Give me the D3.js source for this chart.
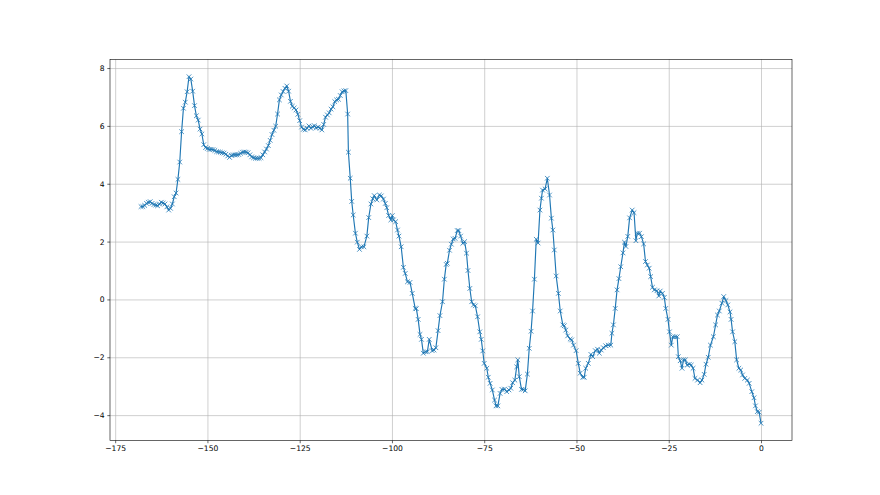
<!DOCTYPE html>
<html>
<head>
<meta charset="utf-8">
<script src="https://cdn.jsdelivr.net/npm/d3@7"></script>
<style>
  body { margin: 0; background: #fff; }
  text { font-family: "DejaVu Sans", sans-serif; }
</style>
</head>
<body>
<svg id="chart" width="880" height="495"></svg>
<script>
// sample positions
const xs = [
  -168,-167.5,-167,-166.5,-166,-165.5,-165,-164.5,-164,-163.5,
  -163,-162.5,-162,-161.5,-161,-160.5,-160,-159.5,-159,-158.5,
  -158,-157.5,-157,-156.5,-156,-155.5,-155,-154.5,-154,-153.5,
  -153,-152.5,-152,-151.5,-151,-150.5,-150,-149.5,-149,-148.5,
  -148,-147.5,-147,-146.5,-146,-145.5,-145,-144.5,-144,-143.5,
  -143,-142.5,-142,-141.5,-141,-140.5,-140,-139.5,-139,-138.5,
  -138,-137.5,-137,-136.5,-136,-135.5,-135,-134.5,-134,-133.5,
  -133,-132.5,-132,-131.5,-131,-130.5,-130,-129.5,-129,-128.5,
  -128,-127.5,-127,-126.5,-126,-125.5,-125,-124.5,-124,-123.5,
  -123,-122.5,-122,-121.5,-121,-120.5,-120,-119.5,-119,-118.5,
  -118,-117.5,-117,-116.5,-116,-115.5,-115,-114.5,-114,-113.5,
  -113,-112.5,-112,
  -111.8,-111.3,-110.9,-110.5,-109.9,-109.4,-108.8,-108.3,-107.6,-106.8,
  -106.3,-105.7,-105.2,-104.8,-104.1,-103.4,-102.9,-102.3,-101.8,-101.4,
  -100.9,-100.3,-99.9,-99.6,-99.0,-98.5,-98.1,-97.5,-96.9,-96.4,
  -95.8,-95.1,-94.5,-93.7,-93.4,-92.9,-92.4,-92.0,-91.5,-90.9,
  -90.4,-89.9,-89.1,-88.6,-88.1,-87.5,-87.0,-86.3,-85.8,-85.3,
  -85.0,-84.4,-83.9,-83.4,-82.9,-82.3,-81.9,-81.4,-80.8,-80.3,
  -79.8,-79.4,-78.9,-78.4,-77.9,-77.4,-76.8,-76.2,-75.8,-75.4,
  -75.0,-74.3,-73.9,-73.4,-72.8,-72.2,-71.8,-71.3,-70.7,-70.2,
  -69.5,-68.9,-68.3,-67.8,-67.3,-66.7,-66.2,-65.9,-65.5,-64.9,
  -64.4,-63.9,-63.3,-62.8,-62.3,-61.9,-61.4,-60.9,-60.4,-59.9,
  -59.5,-59.2,-58.5,-57.9,-57.3,-56.8,-56.4,-56.0,-55.5,-54.9,
  -54.4,-53.7,-53.3,-52.9,-52.4,-51.7,-51.3,-50.8,-50.1,-49.5,
  -49.0,-48.3,-47.9,-47.5,-46.8,-46.1,-45.6,-44.9,-44.3,-43.8,
  -43.3,-42.7,-42.1,-41.4,-40.7,-40.4,-40.0,-39.5,-39.0,-38.5,
  -38.0,-37.4,-37.0,-36.6,-36.1,-35.6,-34.9,-34.4,-33.9,-33.5,
  -32.9,-32.4,-31.8,-31.3,-30.8,-30.3,-29.9,-29.4,-28.9,-28.2,
  -27.7,-27.3,-26.7,-26.2,-25.8,-25.2,-24.8,-24.3,-23.9,-23.3,
  -22.7,-22.4,-21.9,-21.4,-21.0,-20.5,-20.0,-19.4,-18.9,-18.4,
  -17.9,-17.2,-16.5,-16.0,-15.4,-14.9,-14.3,-13.7,-12.9,-12.3,
  -11.8,-11.3,-10.6,-10.1,-9.5,-9.0,-8.4,-8.1,-7.7,-7.1,
  -6.6,-6.0,-5.5,-5.0,-4.4,-3.7,-3.2,-2.5,-1.9,-1.5,
  -1.0,-0.5,0.0
];

const ys = [
  3.21,3.21,3.25,3.32,3.36,3.38,3.32,3.28,3.26,3.24,
  3.30,3.36,3.33,3.30,3.20,3.09,3.15,3.30,3.55,3.68,
  4.15,4.75,5.80,6.61,6.82,7.18,7.70,7.62,7.20,6.70,
  6.35,6.20,5.89,5.72,5.35,5.25,5.22,5.19,5.19,5.18,
  5.15,5.11,5.10,5.09,5.07,5.06,5.02,4.96,4.91,4.98,
  5.00,5.00,5.00,5.01,5.05,5.09,5.10,5.09,5.07,5.00,
  4.93,4.90,4.88,4.88,4.88,4.90,5.00,5.10,5.20,5.32,
  5.50,5.70,5.85,5.99,6.41,6.90,7.07,7.19,7.30,7.38,
  7.20,6.85,6.68,6.62,6.55,6.40,6.18,5.96,5.88,5.86,
  5.92,6.00,5.92,5.97,6.00,5.93,5.96,5.92,5.86,6.05,
  6.30,6.38,6.45,6.58,6.66,6.84,6.90,6.92,7.05,7.18,
  7.21,7.22,6.41,
  5.09,4.19,3.39,2.92,2.29,1.98,1.73,1.82,1.82,2.19,
  2.83,3.30,3.48,3.59,3.44,3.61,3.58,3.47,3.32,3.17,
  2.90,2.75,2.90,2.75,2.69,2.40,2.19,1.82,1.11,0.90,
  0.61,0.59,0.21,-0.31,-0.32,-0.69,-1.21,-1.38,-1.86,-1.81,
  -1.81,-1.38,-1.77,-1.75,-1.67,-1.08,-0.56,-0.08,0.70,1.21,
  1.25,1.70,1.91,2.09,2.11,2.38,2.38,2.19,1.94,2.00,
  1.60,1.00,0.38,-0.08,-0.19,-0.22,-0.60,-1.12,-1.38,-1.78,
  -2.21,-2.38,-2.69,-2.90,-3.13,-3.48,-3.68,-3.68,-3.25,-3.11,
  -3.10,-3.19,-3.13,-3.07,-2.88,-2.79,-2.33,-2.09,-2.67,-3.11,
  -3.11,-3.16,-2.58,-1.69,-1.10,-0.40,0.70,2.08,1.95,3.09,
  3.50,3.78,3.82,4.19,3.61,2.81,2.40,1.71,0.81,0.21,
  -0.40,-0.88,-0.91,-1.06,-1.26,-1.37,-1.40,-1.58,-1.77,-2.21,
  -2.55,-2.69,-2.69,-2.38,-2.21,-1.90,-1.98,-1.77,-1.72,-1.86,
  -1.75,-1.67,-1.60,-1.58,-1.58,-1.17,-0.88,-0.31,0.33,0.72,
  1.13,1.61,1.98,1.83,2.18,2.82,3.09,3.00,2.03,2.29,
  2.29,2.17,1.92,1.31,1.19,1.08,0.79,0.42,0.33,0.30,
  0.12,0.29,0.21,0.07,-0.31,-0.69,-1.12,-1.58,-1.29,-1.29,
  -1.29,-1.98,-2.12,-2.38,-2.09,-2.09,-2.27,-2.24,-2.27,-2.38,
  -2.73,-2.79,-2.88,-2.79,-2.59,-2.24,-2.00,-1.58,-1.29,-0.88,
  -0.54,-0.40,-0.13,0.10,-0.04,-0.19,-0.43,-0.69,-1.12,-1.46,
  -2.09,-2.38,-2.44,-2.61,-2.73,-2.79,-2.90,-3.19,-3.40,-3.68,
  -3.88,-3.90,-4.28
];

const xTicks = [-175, -150, -125, -100, -75, -50, -25, 0];
const yTicks = [-4, -2, 0, 2, 4, 6, 8];

const data = xs.map((x, i) => ({ x: x, y: ys[i] }));

const width = 880, height = 495;
// matplotlib default subplot box
const margin = { left: 110, right: 88, top: 59.4, bottom: 54.45 };
const innerW = width - margin.left - margin.right;
const innerH = height - margin.top - margin.bottom;

const color = '#1f77b4';

// autoscale with 5% padding like matplotlib
const xExt = d3.extent(xs), yExt = d3.extent(ys);
const xPad = (xExt[1] - xExt[0]) * 0.05, yPad = (yExt[1] - yExt[0]) * 0.05;

const x = d3.scaleLinear().domain([xExt[0] - xPad, xExt[1] + xPad]).range([0, innerW]);
const y = d3.scaleLinear().domain([yExt[0] - yPad, yExt[1] + yPad]).range([innerH, 0]);

const svg = d3.select('#chart');
const g = svg.append('g').attr('transform', `translate(${margin.left},${margin.top})`);

// grid
g.append('g')
  .attr('transform', `translate(0,${innerH})`)
  .call(d3.axisBottom(x).tickValues(xTicks).tickSize(-innerH).tickFormat(''))
  .call(a => a.select('.domain').remove())
  .call(a => a.selectAll('line').attr('stroke', '#b0b0b0').attr('stroke-width', 0.6));

g.append('g')
  .call(d3.axisLeft(y).tickValues(yTicks).tickSize(-innerW).tickFormat(''))
  .call(a => a.select('.domain').remove())
  .call(a => a.selectAll('line').attr('stroke', '#b0b0b0').attr('stroke-width', 0.6));

// line
const line = d3.line().x(d => x(d.x)).y(d => y(d.y));
g.append('path')
  .datum(data)
  .attr('fill', 'none')
  .attr('stroke', color)
  .attr('stroke-width', 1.15)
  .attr('stroke-linejoin', 'round')
  .attr('d', line);

// x markers
const m = 2.3;
g.append('g')
  .selectAll('path')
  .data(data)
  .join('path')
  .attr('transform', d => `translate(${x(d.x)},${y(d.y)})`)
  .attr('d', `M${-m},${-m}L${m},${m}M${-m},${m}L${m},${-m}`)
  .attr('stroke', color)
  .attr('stroke-width', 0.8)
  .attr('fill', 'none');

// axes with ticks and labels
const fmt = d3.format('d');
const xAxis = g.append('g')
  .attr('transform', `translate(0,${innerH})`)
  .call(d3.axisBottom(x).tickValues(xTicks).tickSize(2.7).tickPadding(2.7).tickFormat(fmt));
const yAxis = g.append('g')
  .call(d3.axisLeft(y).tickValues(yTicks).tickSize(2.7).tickPadding(2.7).tickFormat(fmt));

[xAxis, yAxis].forEach(a => {
  a.select('.domain').remove();
  a.selectAll('line').attr('stroke', '#000').attr('stroke-width', 0.6);
  a.selectAll('text')
    .attr('fill', '#000')
    .style('font-size', '7.6px')
    .style('font-family', '"DejaVu Sans", sans-serif');
});

// spines
g.append('rect')
  .attr('width', innerW)
  .attr('height', innerH)
  .attr('fill', 'none')
  .attr('stroke', '#000')
  .attr('stroke-width', 0.6);
</script>
</body>
</html>
